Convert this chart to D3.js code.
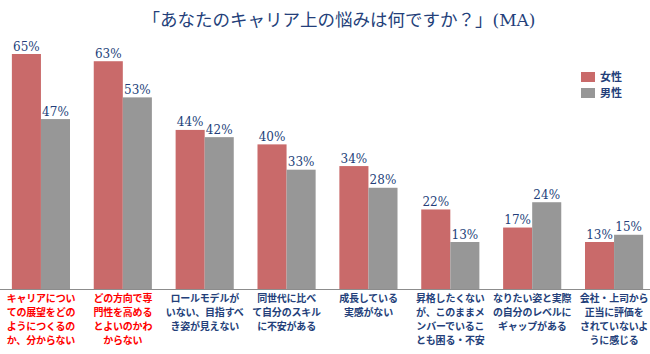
<!DOCTYPE html>
<html>
<head>
<meta charset="utf-8">
<script src="https://cdn.jsdelivr.net/npm/d3@7"></script>
<style>
  body { margin: 0; background: #fff; }
  svg { display: block; }
</style>
</head>
<body>
<div id="chart"></div>
<script>
// Categories (label lines as wrapped in the original)
const categories = [
    ['キャリアについ', 'ての展望をどの', 'ようにつくるの', 'か、分からない'],
    ['どの方向で専', '門性を高める', 'とよいのかわ', 'からない'],
    ['ロールモデルが', 'いない、目指すべ', 'き姿が見えない'],
    ['同世代に比べ', 'て自分のスキル', 'に不安がある'],
    ['成長している', '実感がない'],
    ['昇格したくない', 'が、このままメ', 'ンバーでいるこ', 'とも困る・不安'],
    ['なりたい姿と実際', 'の自分のレベルに', 'ギャップがある'],
    ['会社・上司から', '正当に評価を', 'されていないよ', 'うに感じる']
];
const highlighted = [0, 1];
const seriesNames = ['女性', '男性'];
const femaleValues = [65, 63, 44, 40, 34, 22, 17, 13];
const maleValues = [47, 53, 42, 33, 28, 13, 24, 15];

const width = 650, height = 354;
const baseY = 289;
const navy = '#243f7a';
const colors = ['#c96a6a', '#979797'];

const svg = d3.select('#chart').append('svg')
    .attr('width', width)
    .attr('height', height);

// Scales
const xScale = d3.scaleBand()
    .domain(d3.range(categories.length))
    .range([0, 655])
    .paddingInner(0.29)
    .paddingOuter(0.145);

const xSub = d3.scaleBand()
    .domain(seriesNames)
    .range([0, xScale.bandwidth()]);

const yScale = d3.scaleLinear()
    .domain([0, 65])
    .range([baseY, 54]);

const color = d3.scaleOrdinal().domain(seriesNames).range(colors);

// Title
const title = svg.append('text')
    .attr('x', 339)
    .attr('y', 26)
    .attr('text-anchor', 'middle')
    .style('font-family', '"Noto Sans CJK JP", sans-serif')
    .style('font-size', '17.5px')
    .style('fill', navy);
title.append('tspan').text('「あなたのキャリア上の悩みは何ですか？」');
title.append('tspan')
    .style('font-family', '"DejaVu Serif", serif')
    .style('font-size', '17px')
    .text('(MA)');

// Bars
const rows = categories.map((c, i) => ({ i, values: [femaleValues[i], maleValues[i]] }));

const groups = svg.selectAll('.group')
    .data(rows)
    .enter()
    .append('g')
    .attr('class', 'group')
    .attr('transform', d => `translate(${xScale(d.i)},0)`);

groups.selectAll('rect')
    .data(d => d.values.map((v, k) => ({ key: seriesNames[k], value: v })))
    .enter()
    .append('rect')
    .attr('x', d => xSub(d.key))
    .attr('y', d => yScale(d.value))
    .attr('width', xSub.bandwidth())
    .attr('height', d => baseY - yScale(d.value))
    .style('fill', d => color(d.key));

groups.selectAll('.val')
    .data(d => d.values.map((v, k) => ({ key: seriesNames[k], value: v })))
    .enter()
    .append('text')
    .attr('class', 'val')
    .attr('x', d => xSub(d.key) + xSub.bandwidth() / 2)
    .attr('y', d => yScale(d.value) - 3.5)
    .attr('text-anchor', 'middle')
    .style('font-family', '"DejaVu Serif", serif')
    .style('font-size', '12px')
    .style('fill', navy)
    .text(d => d.value + '%');

// Baseline
svg.append('line')
    .attr('x1', 0)
    .attr('x2', width)
    .attr('y1', baseY + 0.5)
    .attr('y2', baseY + 0.5)
    .style('stroke', '#8c8c8c')
    .style('stroke-width', 1);

// Category labels
groups.append('text')
    .attr('text-anchor', 'middle')
    .style('font-family', '"Noto Sans CJK JP", sans-serif')
    .style('font-size', '10px')
    .style('letter-spacing', '-0.2px')
    .style('font-weight', 'bold')
    .style('fill', d => highlighted.includes(d.i) ? '#ff0000' : navy)
    .selectAll('tspan')
    .data(d => categories[d.i])
    .enter()
    .append('tspan')
    .attr('x', xScale.bandwidth() / 2)
    .attr('y', (d, k) => 302 + k * 14)
    .text(d => d);

// Legend
const legend = svg.selectAll('.legend')
    .data(seriesNames)
    .enter()
    .append('g')
    .attr('class', 'legend')
    .attr('transform', (d, i) => `translate(581, ${72 + i * 16})`);

legend.append('rect')
    .attr('width', 14)
    .attr('height', 10)
    .style('fill', d => color(d));

legend.append('text')
    .attr('x', 19)
    .attr('y', 9)
    .style('font-family', '"Noto Sans CJK JP", sans-serif')
    .style('font-size', '11px')
    .style('font-weight', 'bold')
    .style('fill', navy)
    .text(d => d);
</script>
</body>
</html>
